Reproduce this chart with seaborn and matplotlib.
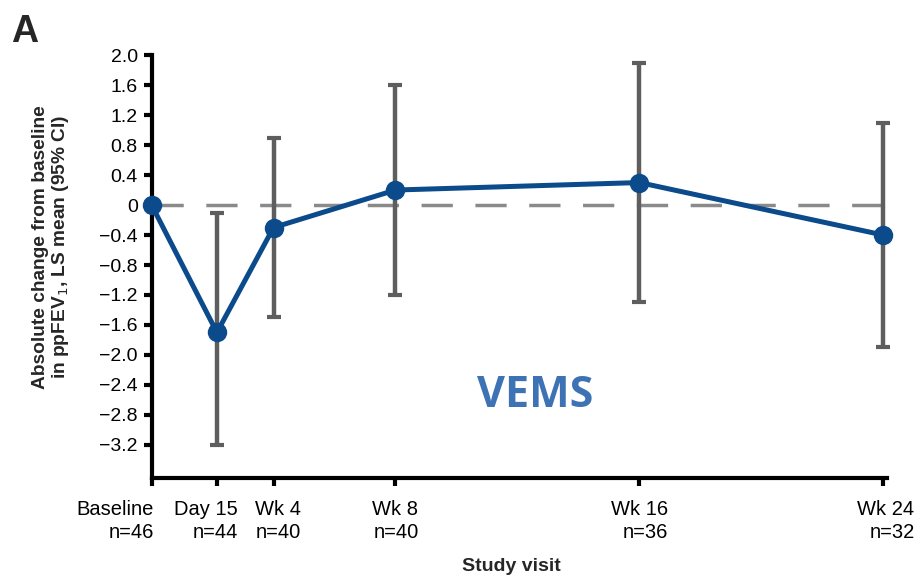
import numpy as np
import pandas as pd
import matplotlib
matplotlib.use("Agg")
import matplotlib.pyplot as plt
import seaborn as sns

# Study visits (days from baseline) and LS mean change in ppFEV1 with 95% CI
visit_days = [0, 15, 28, 56, 112, 168]
visit_names = ["Baseline", "Day 15", "Wk 4", "Wk 8", "Wk 16", "Wk 24"]
n_patients = [46, 44, 40, 40, 36, 32]
ls_mean = [0.0, -1.7, -0.3, 0.2, 0.3, -0.4]
ci_low = [0.0, -3.2, -1.5, -1.2, -1.3, -1.9]
ci_high = [0.0, -0.1, 0.9, 1.6, 1.9, 1.1]
y_ticks = [2.0, 1.6, 1.2, 0.8, 0.4, 0, -0.4, -0.8, -1.2, -1.6, -2.0, -2.4, -2.8, -3.2]

df = pd.DataFrame({"day": visit_days, "mean": ls_mean, "lo": ci_low, "hi": ci_high})

sns.set_theme(style="ticks")
plt.rcParams["font.family"] = ["Liberation Sans", "DejaVu Sans"]

fig = plt.figure(figsize=(9.16, 5.8), dpi=100)
ax = fig.add_axes([0.1655, 0.176, 0.8025, 0.729])

line_blue = "#0B4A8B"
bar_grey = "#5E5E5E"

# zero reference line
ax.axhline(0, color="#8A8A8A", lw=2.5, dashes=(9, 6.5), zorder=1)

# 95% CI bars (skip baseline, which has no interval)
ci_rows = df[df["day"] > 0]
ax.errorbar(ci_rows["day"], ci_rows["mean"],
            yerr=[ci_rows["mean"] - ci_rows["lo"], ci_rows["hi"] - ci_rows["mean"]],
            fmt="none", ecolor=bar_grey, elinewidth=3.2, capsize=5, capthick=3,
            zorder=2, clip_on=False)

sns.lineplot(data=df, x="day", y="mean", ax=ax, color=line_blue, lw=3.6,
             marker="o", markersize=14, markeredgewidth=0, zorder=3,
             clip_on=False)

ax.set_xlim(0, 168.8)
ax.set_ylim(-3.64, 2.0)
ax.set_yticks(y_ticks)
ax.set_yticklabels(["0" if v == 0 else f"{v:.1f}".replace("-", "\u2212") for v in y_ticks],
                   fontsize=14)
ax.set_xticks(visit_days)
ax.set_xticklabels([])

# visit labels under each tick, nudged so the crowded early visits don't collide
label_style = [("right", 1.5), ("center", -8), ("center", 3),
               ("center", 0), ("center", 0), ("center", 2)]
for day, name, n, (ha, dx) in zip(visit_days, visit_names, n_patients, label_style):
    ax.annotate(f"{name}\nn={n}", xy=(day, 0), xycoords=ax.get_xaxis_transform(),
                xytext=(dx, -16), textcoords="offset points", ha=ha, va="top",
                multialignment="right", fontsize=14.5, linespacing=1.25,
                color="black", annotation_clip=False)

for side in ("top", "right"):
    ax.spines[side].set_visible(False)
for side in ("left", "bottom"):
    ax.spines[side].set_linewidth(3)
    ax.spines[side].set_color("black")
ax.tick_params(axis="both", length=6, width=3, color="black", colors="black")
ax.tick_params(axis="y", pad=4)

ax.set_xlabel("Study visit", fontsize=14, fontweight="bold", labelpad=48)
ax.xaxis.label.set_x(0.489)
ax.set_ylabel("Absolute change from baseline\nin ppFEV$_1$, LS mean (95% CI)",
              fontsize=13.8, fontweight="bold", labelpad=20, linespacing=1.1)
ax.yaxis.label.set_y(0.546)

ax.text(0.522, 0.196, "VEMS", transform=ax.transAxes, ha="center", va="center",
        fontsize=31, fontweight="bold", color="#3D72B4", family="Open Sans")

fig.text(0.012, 0.975, "A", ha="left", va="top", fontsize=27, fontweight="bold")

fig.savefig("out.png", dpi=100)
